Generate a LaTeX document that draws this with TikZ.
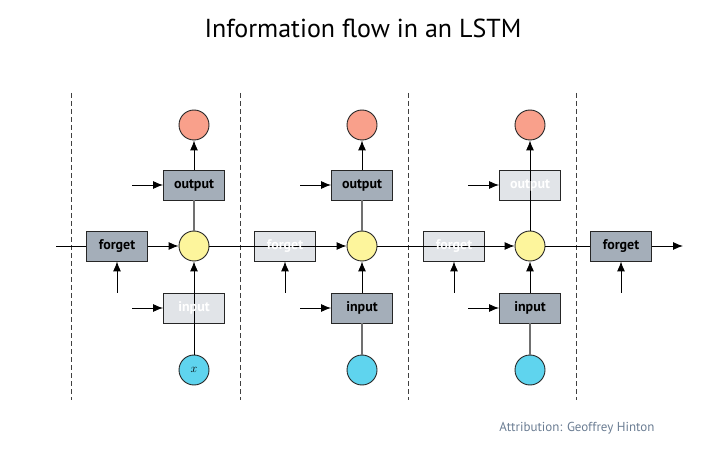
\documentclass[tikz,border=0pt]{standalone}
\usepackage{fontspec}
\setmainfont{PT Sans}
\usetikzlibrary{arrows.meta}

\definecolor{gatedark}{HTML}{A4AEB9}
\definecolor{gatelight}{HTML}{E1E4E8}
\definecolor{cellyellow}{HTML}{FDF59C}
\definecolor{outred}{HTML}{F9A08B}
\definecolor{inblue}{HTML}{5FD4EE}
\definecolor{wiregray}{HTML}{707070}
\definecolor{attrib}{HTML}{6B7D93}

\tikzset{
	gateon/.style={draw=black!85, line width=0.9pt, fill=gatedark, minimum width=61pt, minimum height=30pt,
		inner sep=0pt, font=\bfseries\fontsize{14}{14}\selectfont, text=black},
	gateoff/.style={gateon, fill=gatelight},
	gatetext/.style={font=\bfseries\fontsize{14}{14}\selectfont, text=white, inner sep=0pt},
	unit/.style={circle, draw=black!85, line width=0.9pt, minimum size=30pt, inner sep=0pt},
	flow/.style={line width=0.9pt, -{Latex[length=10pt,width=8pt]}},
	wire/.style={line width=0.9pt},
	graywire/.style={line width=1.1pt, wiregray},
}

\begin{document}
\begin{tikzpicture}[x=1pt,y=-1pt]
	\useasboundingbox (0,0) rectangle (726,449);
	% title
	\node (title) at (363,28) {\fontsize{26}{26}\selectfont Information flow in an LSTM};
	% time step separators
	\foreach \x in {71,240,408,576}
	\draw[line width=0.8pt, black!75, dash pattern=on 5pt off 3pt] (\x,93) -- (\x,400);
	% cells, output units, input units
	\foreach \c/\x in {1/194,2/362,3/530}{
		\node[unit, fill=cellyellow] (y\c) at (\x,246) {};
		\node[unit, fill=outred] (r\c) at (\x,125) {};
		\node[unit, fill=inblue] (b\c) at (\x,370) {};
		\coordinate (oa\c) at (\x-62,185);
		\coordinate (ia\c) at (\x-62,308);
	}
	\node at (b1) {\fontsize{13}{13}\selectfont$x$};
	% gates
	\node[gateon] (f1) at (117,246) {forget};
	\node[gateoff] (f2) at (285,246) {};
	\node[gateoff] (f3) at (454,246) {};
	\node[gateon] (f4) at (621,246) {forget};
	\node[gateon] (o1) at (194,185) {output};
	\node[gateon] (o2) at (362,185) {output};
	\node[gateoff] (o3) at (530,185) {};
	\node[gateoff] (i1) at (194,308) {};
	\node[gateon] (i2) at (362,308) {input};
	\node[gateon] (i3) at (530,308) {input};
	\foreach \f/\x in {1/117,2/285,3/454,4/621}
	\coordinate (fa\f) at (\x,293);
	\coordinate (start) at (56,246);
	\coordinate (end) at (683,246);
	% cell state
	\draw[wire] (start) -- (f1.west);
	\draw[flow] (f1.east) -- (y1.west);
	\draw[flow] (y1.east) -- (y2.west);
	\draw[flow] (y2.east) -- (y3.west);
	\draw[wire] (y3.east) -- (f4.west);
	\draw[flow] (f4.east) -- (end);
	% gate signals
	\foreach \f in {1,2,3,4}
	\draw[flow] (fa\f) -- (f\f.south);
	\foreach \c in {1,2,3}{
		\draw[flow] (oa\c) -- (o\c.west);
		\draw[flow] (ia\c) -- (i\c.west);
	}
	% column 1
	\draw[flow] (b1.north) -- (y1.south);
	\draw[graywire] (y1.north) -- (o1.south);
	\draw[flow] (o1.north) -- (r1.south);
	% column 2
	\draw[graywire] (b2.north) -- (i2.south);
	\draw[flow] (i2.north) -- (y2.south);
	\draw[graywire] (y2.north) -- (o2.south);
	\draw[flow] (o2.north) -- (r2.south);
	% column 3
	\draw[graywire] (b3.north) -- (i3.south);
	\draw[flow] (i3.north) -- (y3.south);
	\draw[flow] (y3.north) -- (r3.south);
	% labels of closed gates
	\node[gatetext] at (f2) {forget};
	\node[gatetext] at (f3) {forget};
	\node[gatetext] at (o3) {output};
	\node[gatetext] at (i1) {input};
	% attribution
	\node[anchor=east, text=attrib, font=\fontsize{13}{13}\selectfont] (credit) at (658,428) {Attribution: Geoffrey Hinton};
\end{tikzpicture}
\end{document}
